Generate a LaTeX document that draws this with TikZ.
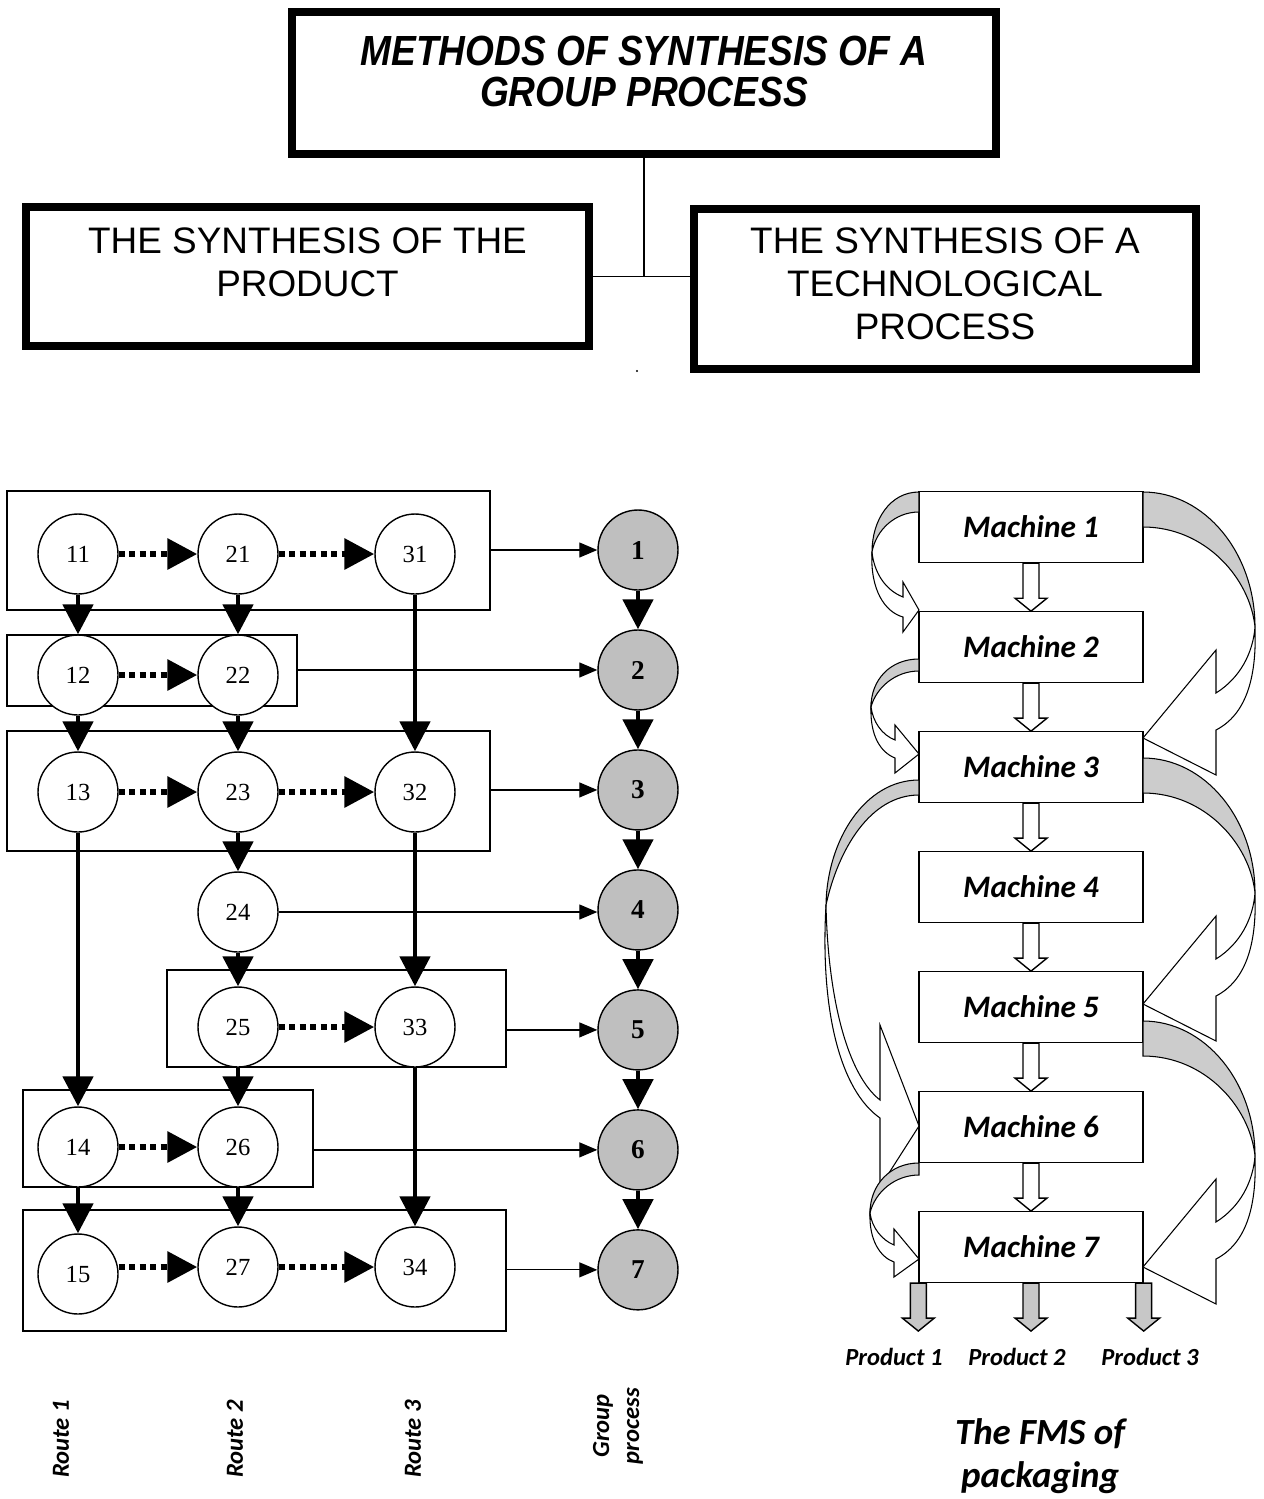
\documentclass[tikz,border=0pt]{standalone}
\usepackage{fontspec}
\setmainfont{Liberation Sans}
\newfontfamily\narrowfont[FakeStretch=0.88]{Liberation Sans}
\newfontfamily\timesfont{Liberation Serif}
\newfontfamily\calfont{Carlito}
\usetikzlibrary{arrows.meta, positioning}

\tikzstyle{headbox} = [rectangle, draw=black, line width=0.16cm, inner sep=0pt]
\tikzstyle{headtext} = [align=center, inner sep=0pt, font=\fontsize{21}{24.5}\selectfont]
\tikzstyle{opset} = [rectangle, draw=black, line width=0.8pt]
\tikzstyle{op} = [circle, draw=black, line width=0.8pt, fill=white, minimum size=1.6cm, inner sep=0pt, font=\timesfont\fontsize{14}{14}\selectfont]
\tikzstyle{grp} = [op, fill=black!25, font=\timesfont\bfseries\fontsize{15.5}{15.5}\selectfont]
\tikzstyle{flow} = [line width=2.8pt, -{Triangle[width=0.6cm,length=0.6cm]}]
\tikzstyle{dotflow} = [flow, line width=3.6pt, dash pattern=on 0.12cm off 0.09cm]
\tikzstyle{feed} = [line width=0.7pt, -{Triangle[width=0.3cm,length=0.36cm]}]
\tikzstyle{machine} = [rectangle, draw=black, line width=0.8pt, fill=white, minimum width=4.48cm, minimum height=1.42cm, font=\calfont\bfseries\itshape\fontsize{17.8}{20}\selectfont]
\tikzstyle{blockarrow} = [draw=black, line width=0.8pt, fill=white]
\tikzstyle{outarrow} = [blockarrow, fill=black!22]
\tikzstyle{band} = [draw=black, line width=0.6pt, fill=black!20]
\tikzstyle{bandfront} = [draw=black, line width=0.6pt, fill=white]
\tikzstyle{caption} = [align=center, inner sep=0pt, font=\calfont\bfseries\itshape\fontsize{14}{17}\selectfont]

\begin{document}
\begin{tikzpicture}[x=0.02cm, y=-0.02cm, node distance=2.4cm]
  \useasboundingbox (0,0) rectangle (1264,1499);

  % top boxes
  \node (title) [headbox, minimum width=14.08cm, minimum height=2.84cm] at (644,83) {};
  \node (titletext) [headtext, font=\narrowfont\bfseries\itshape\fontsize{24}{23}\selectfont, below=0.56cm of title.north] {METHODS OF SYNTHESIS OF A\\GROUP PROCESS};
  \node (prod) [headbox, minimum width=11.26cm, minimum height=2.78cm] at (307.5,276.5) {};
  \node (prodtext) [headtext, below=0.48cm of prod.north] {THE SYNTHESIS OF THE\\PRODUCT};
  \node (tech) [headbox, minimum width=10.04cm, minimum height=3.2cm] at (945,289) {};
  \node (techtext) [headtext, below=0.44cm of tech.north] {THE SYNTHESIS OF A\\TECHNOLOGICAL\\PROCESS};
  \draw[line width=0.8pt] (title.south) -- (title.south |- prod.east);
  \draw[line width=0.8pt] (prod.east) -- (tech.west |- prod.east);
  \fill (637,371) circle (1.2);

  % operation sets
  \node (set1) [opset, minimum width=9.66cm, minimum height=2.38cm] at (248.5,550.5) {};
  \node (set2) [opset, minimum width=5.8cm, minimum height=1.42cm] at (152,670.5) {};
  \node (set3) [opset, minimum width=9.66cm, minimum height=2.4cm] at (248.5,791) {};
  \node (set5) [opset, minimum width=6.78cm, minimum height=1.94cm] at (336.5,1018.5) {};
  \node (set6) [opset, minimum width=5.8cm, minimum height=1.94cm] at (168,1138.5) {};
  \node (set7) [opset, minimum width=9.66cm, minimum height=2.42cm] at (264.5,1270.5) {};

  % routes
  \node (n11) [op] at (78,554) {11};
  \node (n21) [op] at (238,554) {21};
  \node (n31) [op] at (415,554) {31};
  \node (n12) [op] at (78,675) {12};
  \node (n22) [op] at (238,675) {22};
  \node (n13) [op] at (78,792) {13};
  \node (n23) [op] at (238,792) {23};
  \node (n32) [op] at (415,792) {32};
  \node (n24) [op] at (238,912) {24};
  \node (n25) [op] at (238,1027) {25};
  \node (n33) [op] at (415,1027) {33};
  \node (n14) [op] at (78,1147) {14};
  \node (n26) [op] at (238,1147) {26};
  \node (n15) [op] at (78,1274) {15};
  \node (n27) [op] at (238,1267) {27};
  \node (n34) [op] at (415,1267) {34};

  % group process
  \node (g1) [grp] at (638,550) {1};
  \node (g2) [grp, below of=g1] {2};
  \node (g3) [grp, below of=g2] {3};
  \node (g4) [grp, below of=g3] {4};
  \node (g5) [grp, below of=g4] {5};
  \node (g6) [grp, below of=g5] {6};
  \node (g7) [grp, below of=g6] {7};

  \draw[dotflow] (n11) -- (n21);
  \draw[dotflow] (n21) -- (n31);
  \draw[dotflow] (n12) -- (n22);
  \draw[dotflow] (n13) -- (n23);
  \draw[dotflow] (n23) -- (n32);
  \draw[dotflow] (n25) -- (n33);
  \draw[dotflow] (n14) -- (n26);
  \draw[dotflow] (n15.east |- n27) -- (n27);
  \draw[dotflow] (n27) -- (n34);

  \draw[flow] (n11) -- (n12);
  \draw[flow] (n21) -- (n22);
  \draw[flow] (n31) -- (n32);
  \draw[flow] (n12) -- (n13);
  \draw[flow] (n22) -- (n23);
  \draw[flow] (n13) -- (n14);
  \draw[flow] (n23) -- (n24);
  \draw[flow] (n32) -- (n33);
  \draw[flow] (n24) -- (n25);
  \draw[flow] (n25) -- (n26);
  \draw[flow] (n33) -- (n34);
  \draw[flow] (n14) -- (n15);
  \draw[flow] (n26) -- (n27);

  \draw[flow] (g1) -- (g2);
  \draw[flow] (g2) -- (g3);
  \draw[flow] (g3) -- (g4);
  \draw[flow] (g4) -- (g5);
  \draw[flow] (g5) -- (g6);
  \draw[flow] (g6) -- (g7);

  \draw[feed] (set1.east |- g1) -- (g1);
  \draw[feed] (set2.east |- g2) -- (g2);
  \draw[feed] (set3.east |- g3) -- (g3);
  \draw[feed] (n24.east) -- (n24.east -| g4.west);
  \draw[feed] (set5.east |- g5) -- (g5);
  \draw[feed] (set6.east |- g6) -- (g6);
  \draw[feed] (set7.east |- g7) -- (g7);

  \node (route1) [caption, rotate=90] at (61,1439) {Route 1};
  \node (route2) [caption, rotate=90] at (235,1439) {Route 2};
  \node (route3) [caption, rotate=90] at (413,1439) {Route 3};
  \node (routeg) [caption, rotate=90] at (618,1426) {Group\\process};

  % FMS
  \node (m1) [machine] at (1031,527) {Machine 1};
  \node (m2) [machine, below of=m1] {Machine 2};
  \node (m3) [machine, below of=m2] {Machine 3};
  \node (m4) [machine, below of=m3] {Machine 4};
  \node (m5) [machine, below of=m4] {Machine 5};
  \node (m6) [machine, below of=m5] {Machine 6};
  \node (m7) [machine, below of=m6] {Machine 7};

  \draw[blockarrow, shift={(m1.south)}] (-8,0) -- (-8,35) -- (-16,35) -- (0,48) -- (16,35) -- (8,35) -- (8,0) -- cycle;
  \draw[blockarrow, shift={(m2.south)}] (-8,0) -- (-8,35) -- (-16,35) -- (0,48) -- (16,35) -- (8,35) -- (8,0) -- cycle;
  \draw[blockarrow, shift={(m3.south)}] (-8,0) -- (-8,35) -- (-16,35) -- (0,48) -- (16,35) -- (8,35) -- (8,0) -- cycle;
  \draw[blockarrow, shift={(m4.south)}] (-8,0) -- (-8,35) -- (-16,35) -- (0,48) -- (16,35) -- (8,35) -- (8,0) -- cycle;
  \draw[blockarrow, shift={(m5.south)}] (-8,0) -- (-8,35) -- (-16,35) -- (0,48) -- (16,35) -- (8,35) -- (8,0) -- cycle;
  \draw[blockarrow, shift={(m6.south)}] (-8,0) -- (-8,35) -- (-16,35) -- (0,48) -- (16,35) -- (8,35) -- (8,0) -- cycle;
  \draw[outarrow, shift={(m7.south west)}] (-8,0) -- (-8,35) -- (-16,35) -- (0,48) -- (16,35) -- (8,35) -- (8,0) -- cycle;
  \draw[outarrow, shift={(m7.south)}] (-8,0) -- (-8,35) -- (-16,35) -- (0,48) -- (16,35) -- (8,35) -- (8,0) -- cycle;
  \draw[outarrow, shift={(m7.south east)}] (-8,0) -- (-8,35) -- (-16,35) -- (0,48) -- (16,35) -- (8,35) -- (8,0) -- cycle;

  % left loops
  \draw[band] (919,780) .. controls (865,780) and (827,840) .. (826,905) .. controls (838,850) and (870,795) .. (919,795) -- cycle;
  \draw[bandfront] (826,905) .. controls (820,1010) and (840,1090) .. (880,1118) -- (880,1187) -- (919,1126) -- (880,1025) -- (880,1100) .. controls (848,1075) and (828,1000) .. (826,905) -- cycle;
  \draw[band] (919,492) .. controls (890,492) and (872,520) .. (872,552) .. controls (876,530) and (895,512) .. (919,512) -- cycle;
  \draw[bandfront] (872,552) .. controls (870,590) and (885,612) .. (903,617) -- (903,632) -- (919,610) -- (903,582) -- (903,597) .. controls (885,590) and (874,572) .. (872,552) -- cycle;
  \draw[band] (919,659) .. controls (890,659) and (871,680) .. (871,707) .. controls (876,688) and (895,671) .. (919,671) -- cycle;
  \draw[bandfront] (871,707) .. controls (870,735) and (880,752) .. (895,758) -- (895,773) -- (919,754) -- (895,725) -- (895,740) .. controls (882,735) and (873,722) .. (871,707) -- cycle;
  \draw[band] (919,1163) .. controls (890,1163) and (870,1185) .. (870,1213) .. controls (875,1192) and (895,1175) .. (919,1175) -- cycle;
  \draw[bandfront] (870,1213) .. controls (869,1240) and (880,1257) .. (894,1262) -- (894,1277) -- (919,1259) -- (894,1229) -- (894,1245) .. controls (882,1240) and (872,1228) .. (870,1213) -- cycle;

  % right loops
  \draw[band] (1143,492) .. controls (1205,492) and (1255,553) .. (1255,627) .. controls (1250,578) and (1205,527) .. (1143,527) -- cycle;
  \draw[bandfront] (1255,627) .. controls (1257,680) and (1245,715) .. (1216,730) -- (1216,775) -- (1143,738) -- (1216,650) -- (1216,693) .. controls (1240,678) and (1253,653) .. (1255,627) -- cycle;
  \draw[band] (1143,758) .. controls (1205,758) and (1255,819) .. (1255,893) .. controls (1250,844) and (1205,793) .. (1143,793) -- cycle;
  \draw[bandfront] (1255,893) .. controls (1257,946) and (1245,981) .. (1216,996) -- (1216,1041) -- (1143,1004) -- (1216,916) -- (1216,959) .. controls (1240,944) and (1253,919) .. (1255,893) -- cycle;
  \draw[band] (1143,1021) .. controls (1205,1021) and (1255,1082) .. (1255,1156) .. controls (1250,1107) and (1205,1056) .. (1143,1056) -- cycle;
  \draw[bandfront] (1255,1156) .. controls (1257,1209) and (1245,1244) .. (1216,1259) -- (1216,1304) -- (1143,1267) -- (1216,1179) -- (1216,1222) .. controls (1240,1207) and (1253,1182) .. (1255,1156) -- cycle;

  \node (prod1) [caption] at (894,1357) {Product 1};
  \node (prod2) [caption] at (1017,1357) {Product 2};
  \node (prod3) [caption] at (1150,1357) {Product 3};
  \node (fms) [caption, font=\calfont\bfseries\itshape\fontsize{21}{24.5}\selectfont] at (1040,1456) {The FMS of\\packaging};
\end{tikzpicture}
\end{document}
